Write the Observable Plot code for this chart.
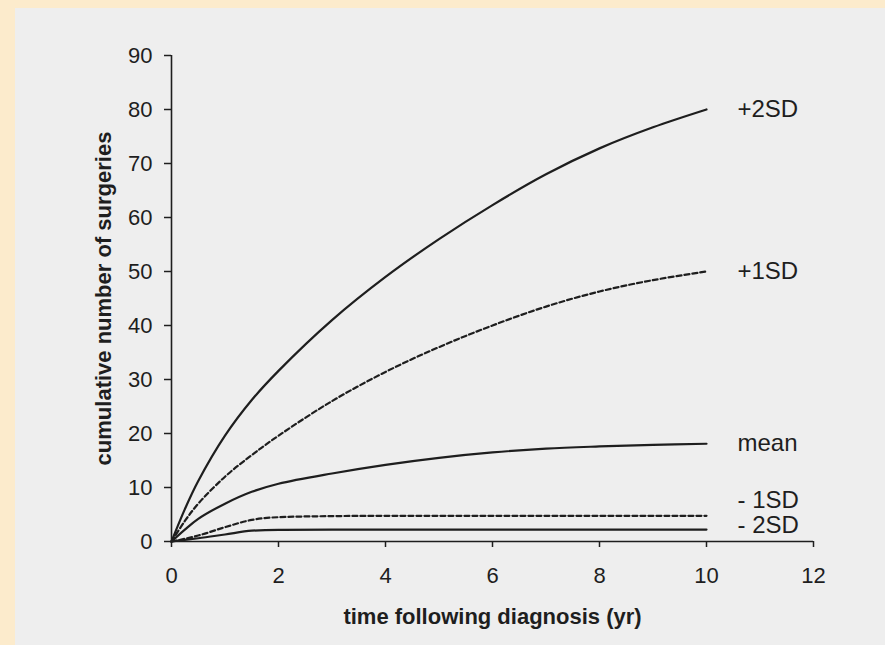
<!DOCTYPE html>
<html><head><meta charset="utf-8">
<script src="https://cdn.jsdelivr.net/npm/d3@7"></script>
<script src="https://cdn.jsdelivr.net/npm/@observablehq/plot@0.6"></script>
<style>
html,body{margin:0;padding:0;width:885px;height:645px;overflow:hidden;background:#fcebcc;}
#paper{position:absolute;left:15px;top:8px;right:0;bottom:0;background:#eeeeee;}
#chart{position:absolute;left:0;top:0;}
#chart svg g[aria-label$="tick label"]{font-size:22px;}
</style></head><body><div id="paper"></div><div id="chart"></div>
<script>
// ---- data ----
const years    = [0, 0.25, 0.5, 1, 1.5, 2, 3, 4, 5, 6, 7, 8, 9, 10];
const plus2SD  = [0, 6.0, 11.2, 19.6, 26.2, 31.6, 41.0, 49.0, 56.0, 62.3, 68.0, 72.8, 76.7, 80.0];
const plus1SD  = [0, 3.8, 7.0, 12.0, 16.0, 19.6, 26.0, 31.4, 36.0, 40.0, 43.5, 46.3, 48.4, 50.0];
const meanVals = [0, 2.2, 4.2, 7.0, 9.2, 10.7, 12.6, 14.2, 15.5, 16.5, 17.2, 17.6, 17.9, 18.1];
const minus1SD = [0, 0.5, 1.1, 2.65, 4.0, 4.5, 4.7, 4.75, 4.75, 4.75, 4.75, 4.75, 4.75, 4.75];
const minus2SD = [0, 0.3, 0.6, 1.3, 2.0, 2.15, 2.2, 2.2, 2.2, 2.2, 2.2, 2.2, 2.2, 2.2];
const seriesNames  = ["+2SD", "+1SD", "mean", "- 1SD", "- 2SD"];
const seriesValues = [plus2SD, plus1SD, meanVals, minus1SD, minus2SD];
const xTicks = [0, 2, 4, 6, 8, 10, 12];
const yTicks = [0, 10, 20, 30, 40, 50, 60, 70, 80, 90];
const xTitle = "time following diagnosis (yr)";
const yTitle = "cumulative number of surgeries";

// ---- styles (kept apart from data) ----
const seriesStyle = {
  "+2SD":  {dash: null,  curve: "catmull-rom", labelDy: 0},
  "+1SD":  {dash: "5,3", curve: "catmull-rom", labelDy: 0},
  "mean":  {dash: null,  curve: "catmull-rom", labelDy: 0},
  "- 1SD": {dash: "5,3", curve: "monotone-x",  labelDy: -16},
  "- 2SD": {dash: null,  curve: "monotone-x",  labelDy: -4}
};
const ink = "#1e1e1e";

const rows = seriesNames.flatMap((name, i) =>
  years.map((t, j) => ({series: name, t, v: seriesValues[i][j]})));

const lineMarks = seriesNames.map(name => Plot.line(rows.filter(d => d.series === name), {
  x: "t", y: "v", curve: seriesStyle[name].curve, stroke: ink, strokeWidth: 2.2,
  strokeDasharray: seriesStyle[name].dash || undefined
}));
const labelMarks = seriesNames.map(name => Plot.text(rows.filter(d => d.series === name).slice(-1), {
  x: "t", y: "v", text: "series", textAnchor: "start", dx: 31, dy: seriesStyle[name].labelDy,
  fontSize: 24, fill: ink
}));

const chart = Plot.plot({
  width: 885, height: 645,
  marginLeft: 171, marginRight: 72, marginTop: 55, marginBottom: 104,
  x: {domain: [0, 12]},
  y: {domain: [0, 90]},
  style: {background: "transparent", fontFamily: "'Liberation Sans', Arial, sans-serif", color: ink, overflow: "visible"},
  marks: [
    Plot.axisX({ticks: xTicks, tickSize: 6, tickPadding: 20, fontSize: 22, label: null, strokeWidth: 1.5}),
    Plot.axisY({ticks: yTicks, tickSize: 7, tickPadding: 12, fontSize: 22, label: null, strokeWidth: 1.5}),
    Plot.ruleY([0], {stroke: ink, strokeWidth: 1.6}),
    Plot.ruleX([0], {stroke: ink, strokeWidth: 1.6}),
    ...lineMarks,
    ...labelMarks,
    Plot.text([xTitle], {frameAnchor: "bottom", text: d => d, dy: 82, fontSize: 22, fontWeight: "bold", fill: ink}),
    Plot.text([yTitle], {frameAnchor: "left", text: d => d, rotate: -90, textAnchor: "middle", dx: -68, fontSize: 22, fontWeight: "bold", fill: ink})
  ]
});
document.getElementById("chart").appendChild(chart);
</script>
</body></html>
